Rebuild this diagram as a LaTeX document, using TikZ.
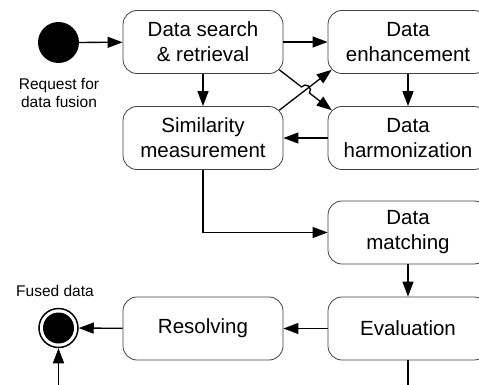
\documentclass[tikz,border=0pt]{standalone}
\usepackage{fontspec}
\setmainfont{Liberation Sans}
\usetikzlibrary{arrows.meta,calc}
\begin{document}
\begin{tikzpicture}[x=1pt,y=-1pt,
  box/.style={draw=black!75, line width=0.8pt, rounded corners=14pt, minimum width=160pt, minimum height=63pt, inner sep=0pt, align=center, font=\fontsize{20.5}{25}\selectfont},
  conn/.style={line width=1.3pt, -{Triangle[length=15pt,width=11pt]}},
  plain/.style={line width=1.3pt},
  lbl/.style={font=\fontsize{15.5}{18}\selectfont, align=center, inner sep=0pt}]
\useasboundingbox (0,0) rectangle (479,385);
\clip (0,0) rectangle (479,385);
% nodes
\node[circle, fill=black, minimum size=41pt, inner sep=0pt] (start) at (58.5,42.5) {};
\node[lbl] (req) at (59,93) {Request for\\data fusion};
\node[box] (b1) at (203,42) {Data search\\\& retrieval};
\node[box] (enh) at (408,42) {Data\\enhancement};
\node[box] (sim) at (203,138) {Similarity\\measurement};
\node[box] (harm) at (408,138) {Data\\harmonization};
\node[box] (match) at (408,232.5) {Data\\matching};
\node[box] (eval) at (408,328.5) {Evaluation};
\node[box] (res) at (203,328.5) {Resolving};
\node[circle, draw=black, line width=1.5pt, minimum size=39pt, inner sep=0pt] (fin) at (58.5,328) {};
\fill (fin.center) circle (15.5pt);
\node[lbl] (fused) at (55,291) {Fused data};
% connectors
\draw[conn] (start) -- (b1);
\draw[conn] (b1) -- (enh);
\draw[conn] (b1) -- (sim);
\draw[conn] (enh) -- (harm);
\draw[conn] (harm) -- (sim);
\coordinate (a1) at ($(b1.south east)+(-4.1pt,4.1pt)$);
\coordinate (a2) at ($(harm.north west)+(4.1pt,-4.1pt)$);
\coordinate (c1) at ($(sim.north east)+(-4.1pt,-4.1pt)$);
\coordinate (c2) at ($(enh.south west)+(4.1pt,4.1pt)$);
\coordinate (xx) at ($(a1)!0.5!(a2)$);
\draw[conn] (c1) -- (c2);
\draw[conn] (a1) -- ($(xx)!5pt!(a1)$) arc[start angle=142.3, end angle=-37.7, radius=5pt] -- (a2);
\draw[conn] (sim.south) |- (match.west);
\draw[conn] (match) -- (eval);
\draw[conn] (eval) -- (res);
\draw[conn] (res) -- (fin);
\coordinate (evbot) at (408,400);
\draw[plain] (eval.south) -- (evbot);
\coordinate (finbot) at (58.5,400);
\draw[conn] (finbot) -- (fin.south);
\end{tikzpicture}
\end{document}
